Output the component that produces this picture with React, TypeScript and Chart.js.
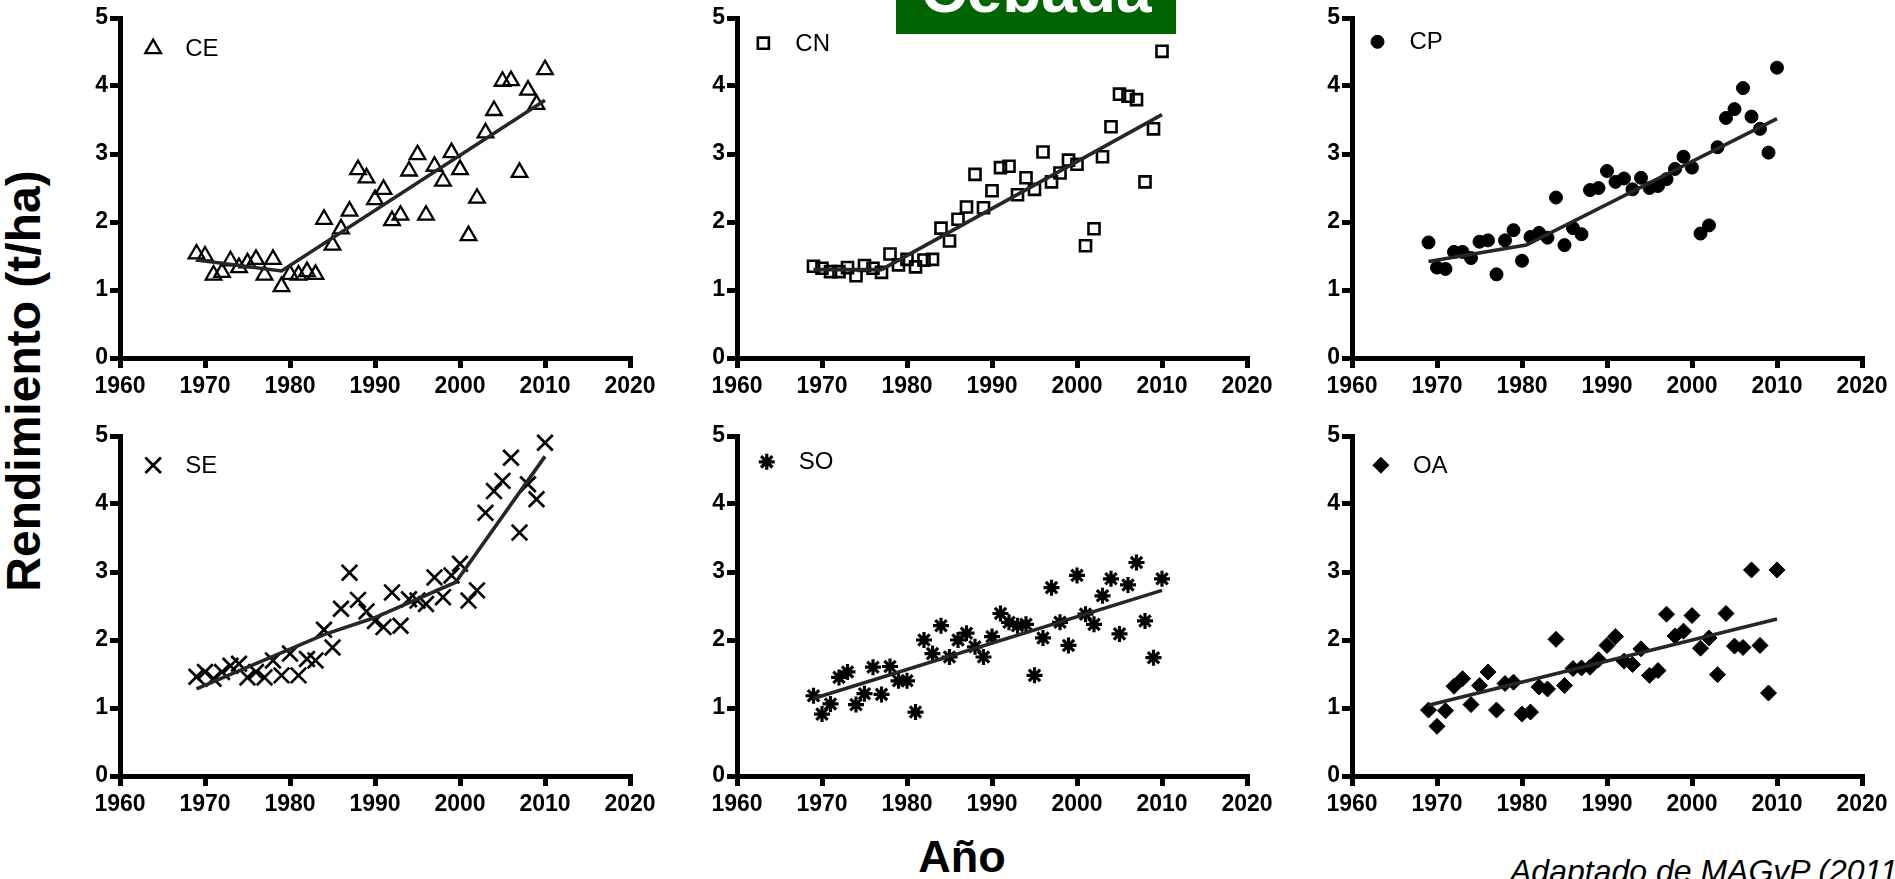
import React, { useEffect, useRef } from 'react';
import { Chart, registerables, PointElement } from 'chart.js';

Chart.register(...registerables);

const FONT = "'Liberation Sans', Arial, Helvetica, sans-serif";

// ---------- data ----------
const years = [
  1969, 1970, 1971, 1972, 1973, 1974, 1975, 1976, 1977, 1978, 1979, 1980, 1981, 1982,
  1983, 1984, 1985, 1986, 1987, 1988, 1989, 1990, 1991, 1992, 1993, 1994, 1995, 1996,
  1997, 1998, 1999, 2000, 2001, 2002, 2003, 2004, 2005, 2006, 2007, 2008, 2009, 2010,
];

const ceValues = [
  1.53, 1.5, 1.22, 1.26, 1.43, 1.33, 1.4, 1.45, 1.22, 1.45, 1.05, 1.23, 1.22, 1.27,
  1.23, 2.04, 1.66, 1.9, 2.16, 2.77, 2.65, 2.33, 2.48, 2.02, 2.1, 2.75, 2.99, 2.1,
  2.82, 2.6, 3.02, 2.77, 1.8, 2.35, 3.31, 3.64, 4.07, 4.08, 2.73, 3.94, 3.73, 4.24,
];
const cnValues = [
  1.35, 1.32, 1.27, 1.27, 1.33, 1.21, 1.36, 1.32, 1.26, 1.53, 1.37, 1.45, 1.34, 1.44,
  1.45, 1.91, 1.72, 2.04, 2.22, 2.7, 2.21, 2.46, 2.8, 2.82, 2.4, 2.65, 2.48, 3.03,
  2.59, 2.72, 2.91, 2.85, 1.65, 1.9, 2.96, 3.4, 3.88, 3.85, 3.8, 2.59, 3.37, 4.51,
];
const cpValues = [
  1.7, 1.33, 1.31, 1.56, 1.56, 1.47, 1.71, 1.73, 1.23, 1.73, 1.88, 1.43, 1.78, 1.84,
  1.77, 2.36, 1.66, 1.91, 1.82, 2.47, 2.5, 2.75, 2.59, 2.64, 2.48, 2.65, 2.5, 2.53,
  2.63, 2.78, 2.96, 2.8, 1.83, 1.95, 3.1, 3.53, 3.66, 3.97, 3.55, 3.37, 3.02, 4.27,
];
const seValues = [
  1.46, 1.53, 1.43, 1.53, 1.62, 1.65, 1.45, 1.53, 1.45, 1.7, 1.48, 1.8, 1.48, 1.72,
  1.7, 2.15, 1.89, 2.46, 2.99, 2.59, 2.42, 2.28, 2.19, 2.7, 2.21, 2.6, 2.58, 2.53,
  2.92, 2.63, 2.95, 3.12, 2.58, 2.73, 3.87, 4.19, 4.34, 4.68, 3.58, 4.29, 4.07, 4.9,
];
const soValues = [
  1.18, 0.91, 1.06, 1.45, 1.53, 1.05, 1.21, 1.6, 1.2, 1.61, 1.4, 1.4, 0.94, 2.0,
  1.8, 2.21, 1.75, 2.0, 2.1, 1.9, 1.75, 2.05, 2.39, 2.26, 2.21, 2.23, 1.48, 2.03,
  2.77, 2.26, 1.92, 2.95, 2.38, 2.23, 2.65, 2.9, 2.09, 2.81, 3.14, 2.28, 1.74, 2.9,
];
const oaValues = [
  0.97, 0.73, 0.96, 1.32, 1.43, 1.05, 1.33, 1.53, 0.97, 1.36, 1.38, 0.91, 0.94, 1.31,
  1.28, 2.01, 1.33, 1.58, 1.59, 1.6, 1.71, 1.92, 2.05, 1.69, 1.64, 1.87, 1.48, 1.55,
  2.38, 2.06, 2.13, 2.36, 1.88, 2.03, 1.49, 2.39, 1.91, 1.89, 3.03, 1.92, 1.22, 3.03,
];

// fitted trend lines (knots)
const ceTrendX = [1969, 1979, 2010];
const ceTrendY = [1.44, 1.28, 3.79];
const cnTrendX = [1969, 1977, 2010];
const cnTrendY = [1.3, 1.3, 3.58];
const cpTrendX = [1969, 1980.5, 2010];
const cpTrendY = [1.42, 1.66, 3.52];
const seTrendX = [1969, 1984, 1990, 1999.5, 2010];
const seTrendY = [1.28, 2.08, 2.33, 2.85, 4.7];
const soTrendX = [1969, 2010];
const soTrendY = [1.14, 2.73];
const oaTrendX = [1969, 2010];
const oaTrendY = [1.04, 2.31];

const xTickValues = [1960, 1970, 1980, 1990, 2000, 2010, 2020];
const yTickValues = [0, 1, 2, 3, 4, 5];

const regionLabels = ['CE', 'CN', 'CP', 'SE', 'SO', 'OA'];

// ---------- layout ----------
const colAxisX = [120, 737, 1352];
const rowTop = [18, 436];
const PLOT_W = 510;
const PLOT_H = 340;
const Y_AXIS_W = 70;
const X_AXIS_H = 45;
const PAD_TOP = 18;
const PAD_RIGHT = 35;
const CANVAS_W = Y_AXIS_W + PLOT_W + PAD_RIGHT;
const CANVAS_H = PAD_TOP + PLOT_H + X_AXIS_H;

type PanelDef = {
  label: string;
  values: number[];
  trendX: number[];
  trendY: number[];
  pointStyle: string;
  radius: number;
  filled: boolean;
  borderWidth: number;
  col: number;
  row: number;
  legendX: number;
  legendY: number;
};

const panels: PanelDef[] = [
  { label: regionLabels[0], values: ceValues, trendX: ceTrendX, trendY: ceTrendY, pointStyle: 'triangle', radius: 9, filled: false, borderWidth: 2.3, col: 0, row: 0, legendX: 1963.9, legendY: 4.55 },
  { label: regionLabels[1], values: cnValues, trendX: cnTrendX, trendY: cnTrendY, pointStyle: 'rect', radius: 7.8, filled: false, borderWidth: 2.6, col: 1, row: 0, legendX: 1963.1, legendY: 4.63 },
  { label: regionLabels[2], values: cpValues, trendX: cpTrendX, trendY: cpTrendY, pointStyle: 'circle', radius: 6.5, filled: true, borderWidth: 1, col: 2, row: 0, legendX: 1963.0, legendY: 4.65 },
  { label: regionLabels[3], values: seValues, trendX: seTrendX, trendY: seTrendY, pointStyle: 'crossRot', radius: 11, filled: false, borderWidth: 2.7, col: 0, row: 1, legendX: 1963.9, legendY: 4.57 },
  { label: regionLabels[4], values: soValues, trendX: soTrendX, trendY: soTrendY, pointStyle: 'star', radius: 8, filled: false, borderWidth: 3.2, col: 1, row: 1, legendX: 1963.5, legendY: 4.62 },
  { label: regionLabels[5], values: oaValues, trendX: oaTrendX, trendY: oaTrendY, pointStyle: 'rectRot', radius: 8, filled: true, borderWidth: 1, col: 2, row: 1, legendX: 1963.4, legendY: 4.57 },
];

const legendPlugin = {
  id: 'panelLegend',
  afterDatasetsDraw(chart: any, _args: any, opts: any) {
    const { ctx, scales, chartArea } = chart;
    const px = scales.x.getPixelForValue(opts.xValue);
    const py = scales.y.getPixelForValue(opts.yValue);
    const el: any = new (PointElement as any)({
      x: px,
      y: py,
      options: {
        pointStyle: opts.pointStyle,
        radius: opts.radius,
        rotation: 0,
        borderWidth: opts.borderWidth,
        borderColor: '#000',
        backgroundColor: opts.filled ? '#000' : 'rgba(0,0,0,0)',
      },
    });
    ctx.save();
    el.draw(ctx, chartArea);
    ctx.fillStyle = '#000';
    ctx.font = `24px ${FONT}`;
    ctx.textBaseline = 'middle';
    ctx.textAlign = 'left';
    ctx.fillText(opts.text, px + 32, py + 1);
    ctx.restore();
  },
};

function Panel({ def }: { def: PanelDef }) {
  const ref = useRef<HTMLCanvasElement>(null);
  useEffect(() => {
    const canvas = ref.current;
    if (!canvas) return;
    const points = years.map((yr, i) => ({ x: yr, y: def.values[i] }));
    const trend = def.trendX.map((x, i) => ({ x, y: def.trendY[i] }));
    const tickFont = { family: FONT, size: 23, weight: 'bold' as const };
    const gridOpts = {
      display: true,
      drawOnChartArea: false,
      drawTicks: true,
      tickLength: 10,
      tickWidth: 5,
      tickColor: '#000',
      lineWidth: 5,
      color: '#000',
    };
    const chart = new Chart(canvas, {
      type: 'scatter',
      data: {
        datasets: [
          {
            label: def.label + ' tendencia',
            data: trend,
            showLine: true,
            borderColor: '#262626',
            borderWidth: 3.6,
            pointRadius: 0,
            order: 0,
            clip: false as any,
          } as any,
          {
            label: def.label,
            data: points,
            pointStyle: def.pointStyle as any,
            pointRadius: def.radius,
            pointBorderWidth: def.borderWidth,
            pointBorderColor: '#000',
            pointBackgroundColor: def.filled ? '#000' : 'rgba(0,0,0,0)',
            borderColor: '#000',
            backgroundColor: def.filled ? '#000' : 'rgba(0,0,0,0)',
            borderWidth: def.borderWidth,
            showLine: false,
            order: 1,
            clip: false as any,
          } as any,
        ],
      },
      options: {
        animation: false,
        responsive: false,
        events: [],
        layout: { padding: { top: PAD_TOP, right: PAD_RIGHT, left: 0, bottom: 0 } },
        plugins: {
          legend: { display: false },
          tooltip: { enabled: false },
          panelLegend: {
            xValue: def.legendX,
            yValue: def.legendY,
            text: def.label,
            pointStyle: def.pointStyle,
            radius: def.radius,
            filled: def.filled,
            borderWidth: def.borderWidth,
          },
        } as any,
        scales: {
          x: {
            type: 'linear',
            min: xTickValues[0],
            max: xTickValues[xTickValues.length - 1],
            afterBuildTicks: (s: any) => {
              s.ticks = xTickValues.map((v) => ({ value: v }));
            },
            afterFit: (s: any) => {
              s.height = X_AXIS_H;
            },
            ticks: {
              color: '#000',
              font: tickFont,
              padding: 5,
              maxRotation: 0,
              autoSkip: false,
              callback: (v: any) => String(v),
            },
            grid: gridOpts,
            border: { display: true, width: 5, color: '#000' },
          },
          y: {
            type: 'linear',
            min: yTickValues[0],
            max: yTickValues[yTickValues.length - 1],
            afterBuildTicks: (s: any) => {
              s.ticks = yTickValues.map((v) => ({ value: v }));
            },
            afterFit: (s: any) => {
              s.width = Y_AXIS_W;
            },
            ticks: {
              color: '#000',
              font: tickFont,
              padding: 2,
              autoSkip: false,
              callback: (v: any) => String(v),
            },
            grid: gridOpts,
            border: { display: true, width: 5, color: '#000' },
          },
        },
      },
      plugins: [legendPlugin as any],
    });
    return () => chart.destroy();
  }, [def]);

  return (
    <canvas
      ref={ref}
      width={CANVAS_W}
      height={CANVAS_H}
      style={{
        position: 'absolute',
        left: colAxisX[def.col] - Y_AXIS_W,
        top: rowTop[def.row] - PAD_TOP,
        width: CANVAS_W,
        height: CANVAS_H,
      }}
    />
  );
}

export default function App() {
  return (
    <div
      style={{
        position: 'absolute',
        left: 0,
        top: 0,
        width: 1895,
        height: 879,
        overflow: 'hidden',
        background: '#fff',
        fontFamily: FONT,
      }}
    >
      {panels.map((p) => (
        <Panel key={p.label} def={p} />
      ))}
      <div
        style={{
          position: 'absolute',
          left: 24,
          top: 381,
          transform: 'translate(-50%, -50%) rotate(-90deg)',
          fontSize: 48,
          fontWeight: 'bold',
          lineHeight: 1,
          whiteSpace: 'nowrap',
          color: '#000',
        }}
      >
        Rendimiento (t/ha)
      </div>
      <div
        style={{
          position: 'absolute',
          left: 962,
          top: 834,
          transform: 'translateX(-50%)',
          fontSize: 45,
          fontWeight: 'bold',
          lineHeight: 1,
          whiteSpace: 'nowrap',
          color: '#000',
        }}
      >
        Año
      </div>
      <div
        style={{
          position: 'absolute',
          left: 1510,
          top: 855,
          fontSize: 32,
          fontStyle: 'italic',
          lineHeight: 1,
          whiteSpace: 'nowrap',
          color: '#000',
        }}
      >
        Adaptado de MAGyP (2011)
      </div>
      <div
        style={{
          position: 'absolute',
          left: 896,
          top: 0,
          width: 280,
          height: 34,
          background: '#006400',
          overflow: 'hidden',
        }}
      >
        <div
          style={{
            position: 'absolute',
            left: 0,
            top: -42,
            width: '100%',
            textAlign: 'center',
            fontSize: 64,
            fontWeight: 'bold',
            lineHeight: 1,
            color: '#fff',
            whiteSpace: 'nowrap',
          }}
        >
          Cebada
        </div>
      </div>
    </div>
  );
}
